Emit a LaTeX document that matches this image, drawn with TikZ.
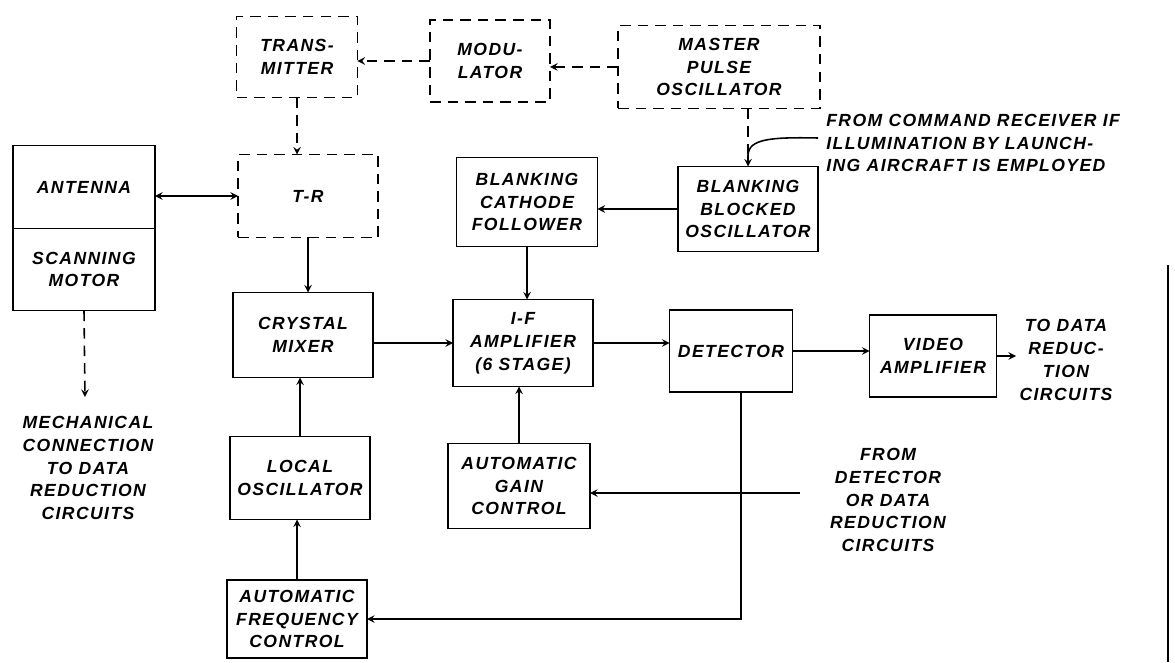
\documentclass[tikz,border=0pt]{standalone}
\usepackage{fontspec}
\setmainfont{Liberation Sans}
\usetikzlibrary{positioning}

\tikzset{
  box/.style={draw,line width=1.1pt,outer sep=0pt,align=center,inner sep=1pt,
              minimum width=2.8cm,minimum height=1.7cm},
  planned/.style={box,dash pattern=on 6pt off 4pt},
  note/.style={align=center,inner sep=0pt},
  wire/.style={line width=0.9pt},
  dwire/.style={wire,dash pattern=on 6pt off 4pt}
}

\begin{document}
\begin{tikzpicture}[x=0.02cm,y=-0.02cm,>=stealth,
    font=\bfseries\itshape\fontsize{10}{13}\selectfont\addfontfeature{LetterSpace=8}]
    \useasboundingbox (0,0) rectangle (1175,662);

    \node[planned,minimum width=2.42cm,minimum height=1.62cm] (tx) at (297,57) {TRANS-\\MITTER};
    \node[planned,minimum width=2.4cm,minimum height=1.64cm] (mod) at (490,61) {MODU-\\LATOR};
    \node[planned,minimum width=4.04cm,minimum height=1.66cm] (mpo) at (719,67) {MASTER\\PULSE\\OSCILLATOR};
    \node[planned,minimum height=1.66cm] (tr) at (308,196) {T-R};
    \node[box,minimum width=2.84cm,minimum height=1.66cm] (ant) at (84,187) {ANTENNA};
    \node[box,minimum width=2.84cm,minimum height=1.64cm] (scan) [below=0pt of ant] {SCANNING\\MOTOR};
    \node[box,minimum width=2.82cm,minimum height=1.78cm] (bcf) at (527,202) {BLANKING\\CATHODE\\FOLLOWER};
    \node[box] (bbo) at (748,209) {BLANKING\\BLOCKED\\OSCILLATOR};
    \node[box] (mix) at (303,335) {CRYSTAL\\MIXER};
    \node[box,minimum height=1.74cm] (ifa) at (523,343) {I-F\\AMPLIFIER\\(6 STAGE)};
    \node[box,minimum width=2.46cm,minimum height=1.64cm] (det) at (731,351) {DETECTOR};
    \node[box,minimum width=2.54cm,minimum height=1.64cm] (vid) at (933,356) {VIDEO\\AMPLIFIER};
    \node[box,minimum height=1.66cm] (lo) at (300,478) {LOCAL\\OSCILLATOR};
    \node[box,minimum height=1.56cm] (afc) at (297,619) {AUTOMATIC\\FREQUENCY\\CONTROL};
    \node[box,minimum width=2.84cm] (agc) at (519,486) {AUTOMATIC\\GAIN\\CONTROL};

    \node[note] (mech) at (88,468) {MECHANICAL\\CONNECTION\\TO DATA\\REDUCTION\\CIRCUITS};
    \node[note] (fromdet) at (888,500) {FROM\\DETECTOR\\OR DATA\\REDUCTION\\CIRCUITS};
    \node[note] (todata) at (1066,360) {TO DATA\\REDUC-\\TION\\CIRCUITS};
    \node[note,align=left,anchor=west] (cmd) at (826,143)
        {FROM COMMAND RECEIVER IF\\ILLUMINATION BY LAUNCH-\\ING AIRCRAFT IS EMPLOYED};

    \coordinate (mechend) at (85,397);
    \coordinate (vidend) at (1016,356);
    \coordinate (cmdend) at (818,138);
    \coordinate (join) at (748,155);
    \coordinate (detend) at (800,493);

    \draw[dwire,->] (mod.west) -- (mod.west -| tx.east);
    \draw[dwire,->] (mpo.west) -- (mpo.west -| mod.east);
    \draw[dwire,->] (tx.south) -- (tx.south |- tr.north);
    \draw[dwire,->] (scan.south) -- (mechend);
    \draw[dwire] (bbo.north |- mpo.south) -- (join);
    \draw[wire,->] (join) -- (bbo.north);
    \draw[wire] (cmdend) .. controls (770,137) and (749,139) .. (join);

    \draw[wire,<->] (ant.east |- tr.west) -- (tr.west);
    \draw[wire,->] (tr.south) -- (tr.south |- mix.north);
    \draw[wire,->] (mix.east |- ifa.west) -- (ifa.west);
    \draw[wire,->] (bbo.west) -- (bbo.west -| bcf.east);
    \draw[wire,->] (bcf.south) -- (bcf.south |- ifa.north);
    \draw[wire,->] (ifa.east) -- (ifa.east -| det.west);
    \draw[wire,->] (det.east) -- (det.east -| vid.west);
    \draw[wire,->] (vid.east) -- (vidend);
    \draw[wire,->] (lo.north) -- (lo.north |- mix.south);
    \draw[wire,->] (afc.north) -- (afc.north |- lo.south);
    \draw[wire,->] (agc.north) -- (agc.north |- ifa.south);
    \draw[wire,->] ([xshift=0.2cm]det.south) |- (afc.east);
    \draw[wire,->] (detend) -- (detend -| agc.east);

    \draw[line width=1.2pt] (1168,265) -- (1168,662);
\end{tikzpicture}
\end{document}
